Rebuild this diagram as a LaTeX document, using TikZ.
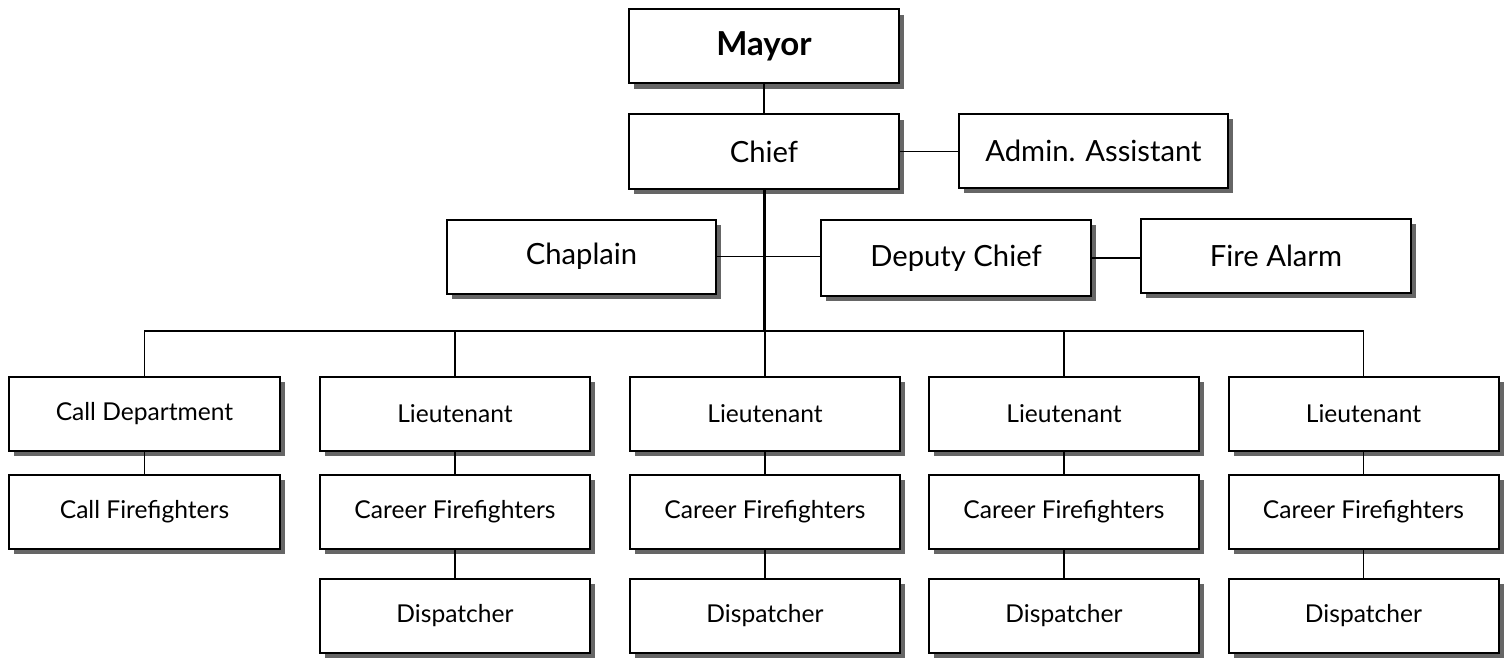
\documentclass[tikz,border=0pt]{standalone}
\usepackage{fontspec}
\setmainfont{Lato}
\usetikzlibrary{shadows}
\begin{document}
\begin{tikzpicture}[x=0.5pt,y=-0.5pt,
  box/.style={draw=black, line width=1pt, fill=white, inner sep=0pt,
    minimum width=135pt, minimum height=37pt,
    general shadow={fill=black!60, shadow xshift=2.6pt, shadow yshift=-2.6pt}},
  big/.style={box, font=\fontsize{14.6}{18}\selectfont},
  small/.style={box, font=\fontsize{12.3}{15}\selectfont},
  link/.style={line width=0.75pt},
  trunk/.style={line width=1.5pt}]
\useasboundingbox (0,0) rectangle (1508,658);

% upper management
\node[big, font=\fontsize{16.5}{20}\selectfont\bfseries] (mayor) at (764,46.5) {Mayor};
\node[big] (chief) at (764,151.5) {Chief};
\node[big, minimum width=134.5pt] (admin) at (1093.5,151) {Admin. Assistant};
\node[big, minimum width=134.5pt] (chaplain) at (581.5,256.5) {Chaplain};
\node[big, minimum height=38pt] (deputy) at (956,258) {Deputy Chief};
\node[big] (alarm) at (1276,255.5) {Fire Alarm};

% companies
\node[small, minimum width=135.5pt] (cd) at (144.5,414) {Call Department};
\node[small, minimum width=135.5pt] (cf) at (144.5,512) {Call Firefighters};
\foreach \i/\x in {2/455,3/765,4/1064,5/1363.5}{
  \node[small] (lt\i) at (\x,414) {Lieutenant};
  \node[small] (ff\i) at (\x,512) {Career Firefighters};
  \node[small] (dp\i) at (\x,616) {Dispatcher};
}

% reporting lines
\coordinate (bus) at (765,331);
\draw[link] (mayor.south) -- (chief.north);
\draw[link] (chief.east) -- (chief.east -| admin.west);
\draw[trunk] (chief.south) -- (chief.south |- bus);
\draw[link] (chaplain.east) -- (chaplain.east -| deputy.west);
\draw[link] (deputy.east) -- (deputy.east -| alarm.west);
\draw[link] (cd.north) |- (bus) -| (lt5.north);
\foreach \i in {2,3,4}{
  \draw[link] (lt\i.north) -- (lt\i.north |- bus);
}
\draw[link] (cd.south) -- (cf.north);
\foreach \i in {2,3,4,5}{
  \draw[link] (lt\i.south) -- (ff\i.north);
  \draw[link] (ff\i.south) -- (dp\i.north);
}
\end{tikzpicture}
\end{document}
